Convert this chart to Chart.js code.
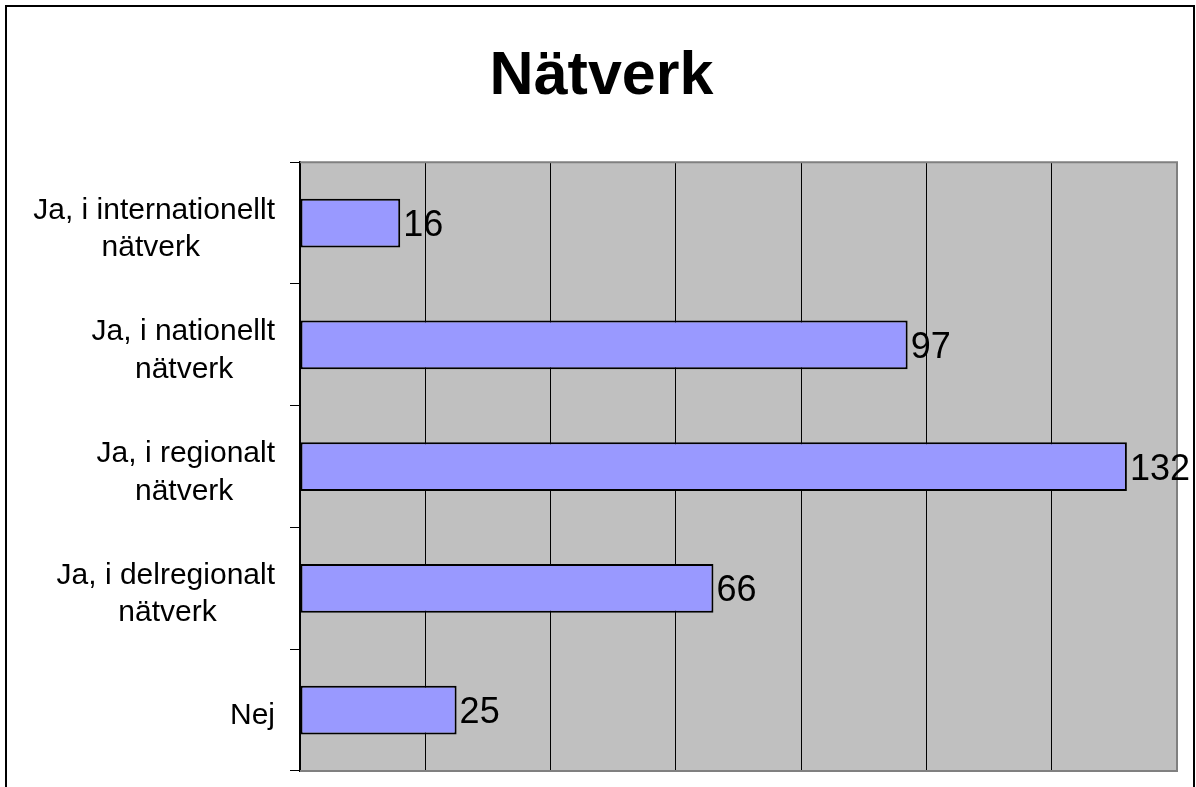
<!DOCTYPE html>
<html>
<head>
<meta charset="utf-8">
<script src="https://cdn.jsdelivr.net/npm/chart.js@4.4.1/dist/chart.umd.min.js"></script>
<style>
  html, body { margin:0; padding:0; background:#fff; overflow:hidden; }
  #wrap { position:relative; width:1196px; height:787px; }
  #frame { position:absolute; left:5px; top:5px; width:1190px; height:800px; border:2px solid #000; box-sizing:border-box; pointer-events:none; }
  #chart { position:absolute; left:0; top:0; }
</style>
</head>
<body>
<div id="wrap">
  <canvas id="chart" width="1196" height="787"></canvas>
  <div id="frame"></div>
</div>
<script>
/* Nätverk – horizontal bar chart */

const TITLE      = 'Nätverk';
const categories = [
  ['Ja, i internationellt', 'nätverk'],
  ['Ja, i nationellt', 'nätverk'],
  ['Ja, i regionalt', 'nätverk'],
  ['Ja, i delregionalt', 'nätverk'],
  ['Nej']
];
const values     = [16, 97, 132, 66, 25];
const axisMax    = 140;
const axisStep   = 20;

const FONT = '"Liberation Sans", Arial, sans-serif';
const LABEL_SIZE = 30;

// each label is right aligned by its widest line, other lines centred under it
const mctx = document.createElement('canvas').getContext('2d');
function centerLines(lines){
  if(!Array.isArray(lines)) return lines;
  mctx.font = `${LABEL_SIZE}px ${FONT}`;
  const w = lines.map(l => mctx.measureText(l).width);
  const maxW = Math.max(...w);
  const sp = mctx.measureText(' ').width;
  return lines.map((l,i) => l + ' '.repeat(Math.round((maxW - w[i]) / 2 / sp)));
}

const plotFrame = {
  id:'plotFrame',
  beforeDraw(chart){
    const {ctx, chartArea:a} = chart;
    ctx.save();
    ctx.fillStyle = '#c0c0c0';
    ctx.fillRect(a.left, a.top, a.right - a.left, a.bottom - a.top);
    ctx.restore();
  },
  beforeDatasetsDraw(chart){
    const {ctx, chartArea:a} = chart;
    ctx.save();
    ctx.strokeStyle = '#808080';
    ctx.lineWidth = 2;
    ctx.beginPath();
    ctx.moveTo(a.left, a.top);
    ctx.lineTo(a.right, a.top);
    ctx.lineTo(a.right, a.bottom);
    ctx.lineTo(a.left, a.bottom);
    ctx.stroke();
    ctx.restore();
  }
};

const valueLabels = {
  id:'valueLabels',
  afterDatasetsDraw(chart){
    const {ctx} = chart;
    const meta = chart.getDatasetMeta(0);
    ctx.save();
    ctx.font = `36px ${FONT}`;
    ctx.fillStyle = '#000';
    ctx.textAlign = 'left';
    ctx.textBaseline = 'middle';
    meta.data.forEach((bar, i) => {
      ctx.fillText(String(values[i]), bar.x + 3, bar.y + 3);
    });
    ctx.restore();
  }
};

new Chart(document.getElementById('chart'), {
  type:'bar',
  data:{
    labels: categories,
    datasets:[{
      data: values,
      backgroundColor:'#9999ff',
      borderColor:'#000',
      borderWidth:2,
      borderSkipped:false,
      barPercentage:0.4,
      categoryPercentage:1
    }]
  },
  options:{
    indexAxis:'y',
    responsive:false,
    animation:false,
    layout:{ padding:{ left:26, right:19, top:0, bottom:16 } },
    scales:{
      x:{
        min:0, max:axisMax,
        ticks:{ display:false, stepSize:axisStep },
        grid:{ color:'#000', lineWidth:1, drawTicks:false },
        border:{ color:'#808080', width:2 },
        afterFit(scale){ scale.height = 0; }
      },
      y:{
        ticks:{
          color:'#000',
          font:{ family:FONT, size:LABEL_SIZE, lineHeight:1.25 },
          padding:15,
          labelOffset:6,
          crossAlign:'near',
          callback(v, i){ return centerLines(categories[i]); }
        },
        grid:{ display:true, drawOnChartArea:false, drawTicks:true, tickLength:10, color:'#000', offset:true },
        border:{ color:'#000', width:2 },
        afterFit(scale){
          scale.width = 274;
          scale.paddingTop = 0;
          scale.paddingBottom = 0;
        }
      }
    },
    plugins:{
      legend:{ display:false },
      tooltip:{ enabled:false },
      title:{
        display:true,
        text:TITLE,
        color:'#000',
        font:{ family:FONT, size:61, weight:'bold', lineHeight:1.2 },
        padding:{ top:41, bottom:48 }
      }
    }
  },
  plugins:[plotFrame, valueLabels]
});
</script>
</body>
</html>
